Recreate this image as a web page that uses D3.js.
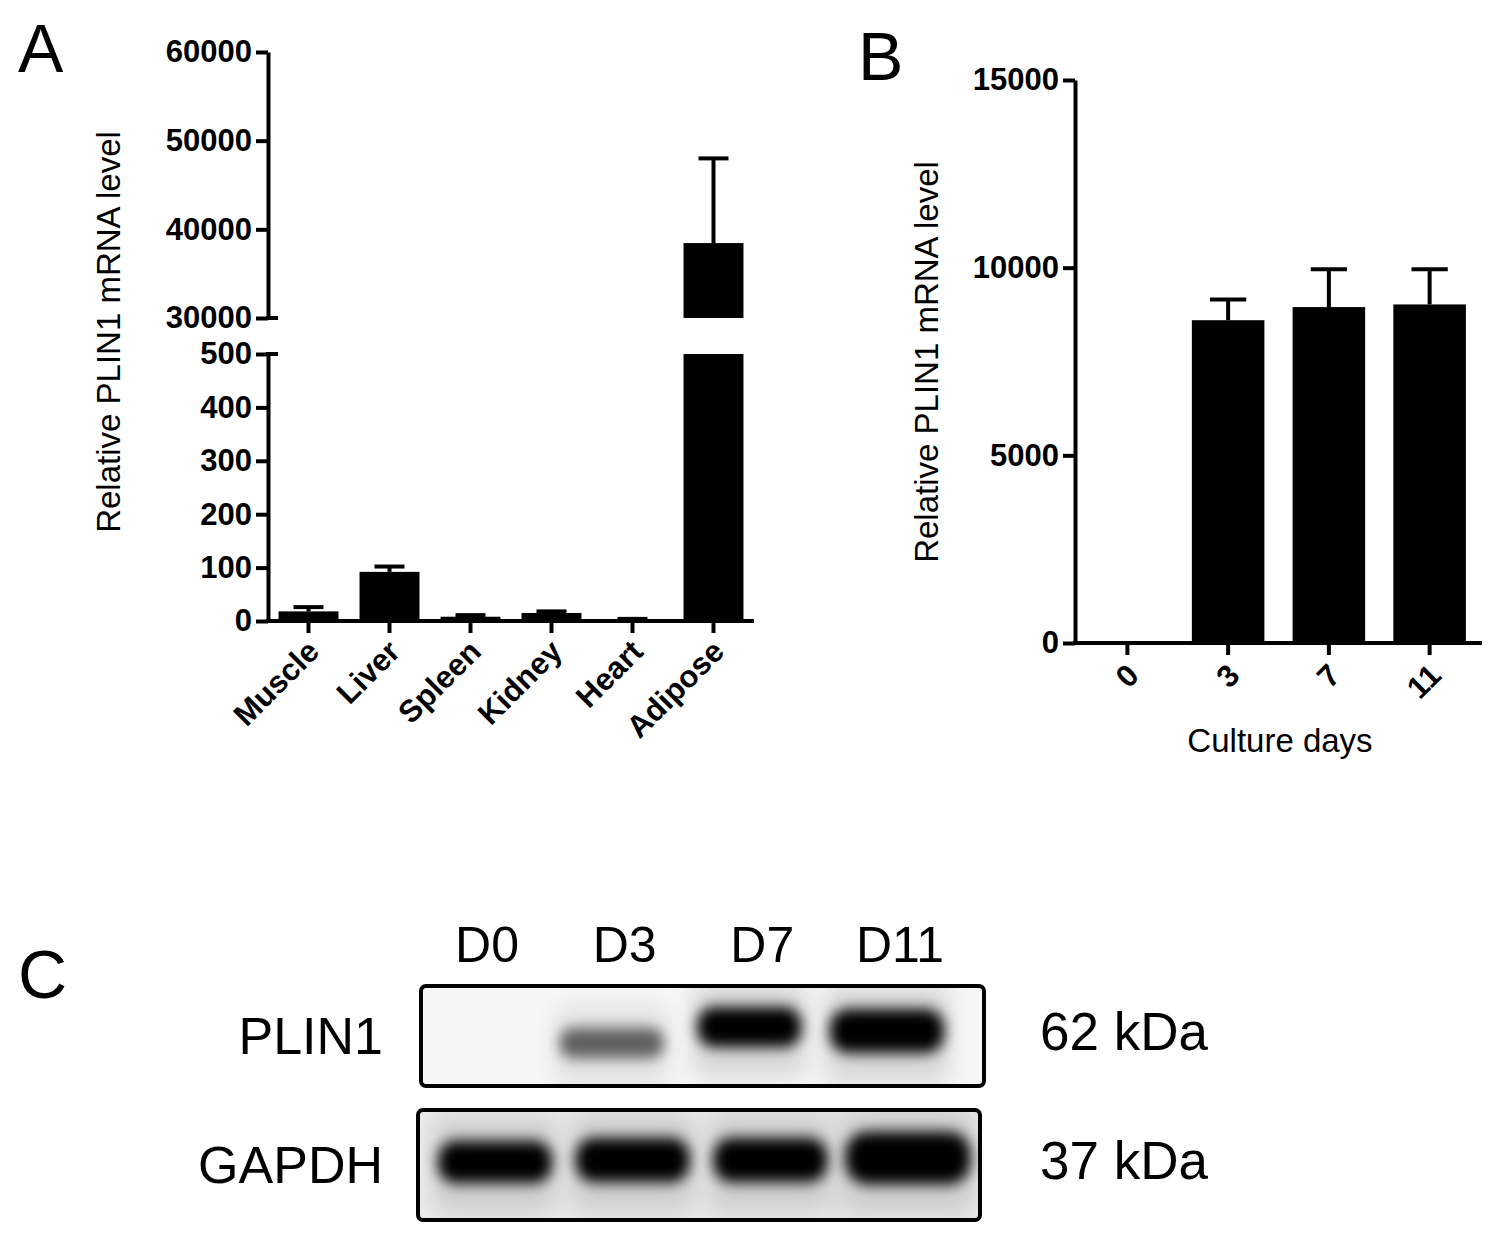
<!DOCTYPE html>
<html><head><meta charset="utf-8">
<script src="https://cdn.jsdelivr.net/npm/d3@7"></script>
<style>
body{margin:0;background:#fff;}
svg{display:block;font-family:"Liberation Sans",Arial,sans-serif;}
</style></head>
<body>
<svg id="fig" width="1500" height="1242"></svg>
<script>
// ---------- DATA ----------
const tissues = ["Muscle","Liver","Spleen","Kidney","Heart","Adipose"];
const tissueMean = [18, 92, 8, 15, 3, 38450];
const tissueErr  = [26, 102, 11, 18, 4, 48000];
const lowTicks  = [0,100,200,300,400,500];
const highTicks = [30000,40000,50000,60000];

const days = ["0","3","7","11"];
const dayMean = [0, 8600, 8950, 9020];
const dayErr  = [0, 9150, 9960, 9960];
const dayTicks = [0,5000,10000,15000];

const lanes = ["D0","D3","D7","D11"];
const plin1Intensity = [0, 0.6, 1, 1];
const plin1Thickness = [0, 0.75, 1, 1.1];
const gapdhIntensity = [1, 1, 1, 1];
const gapdhThickness = [1, 1.05, 1.05, 1.25];
const blotRows = ["PLIN1","GAPDH"];
const blotKDa = ["62 kDa","37 kDa"];

// ---------- SETUP ----------
const svg = d3.select("#fig");
svg.append("rect").attr("width",1500).attr("height",1242).attr("fill","#fff");
const AX = 4; // axis stroke
const tickFont = "bold 31px 'Liberation Sans', Arial, sans-serif";

function styleAxis(g){
  g.selectAll("path.domain").attr("stroke","#000").attr("stroke-width",AX);
  g.selectAll(".tick line").attr("stroke","#000").attr("stroke-width",AX);
  g.selectAll(".tick text").attr("fill","#000").style("font",tickFont);
}

// ---------- PANEL A ----------
const A = svg.append("g");
A.append("text").attr("x",18).attr("y",72).attr("font-size",68).text("A");

const xA = d3.scaleBand().domain(tissues).range([268,754]).paddingInner(0.26).paddingOuter(0.13);
const yLow = d3.scaleLinear().domain([0,500]).range([621,354]);
const yHigh = d3.scaleLinear().domain([30000,60000]).range([318,52]);

const gyl = A.append("g").attr("transform","translate(268,0)")
  .call(d3.axisLeft(yLow).tickValues(lowTicks).tickSize(12).tickPadding(4).tickSizeOuter(0));
styleAxis(gyl);
const gyh = A.append("g").attr("transform","translate(268,0)")
  .call(d3.axisLeft(yHigh).tickValues(highTicks).tickSize(12).tickPadding(4).tickSizeOuter(0).tickFormat(d3.format("d")));
styleAxis(gyh);
A.append("line").attr("x1",266).attr("x2",278).attr("y1",yHigh(30000)).attr("y2",yHigh(30000)).attr("stroke","#000").attr("stroke-width",AX);
A.append("line").attr("x1",266).attr("x2",278).attr("y1",yLow(500)).attr("y2",yLow(500)).attr("stroke","#000").attr("stroke-width",AX);

const dA = tissues.map((t,i)=>({t,m:tissueMean[i],e:tissueErr[i]}));
const bw = xA.bandwidth();
A.selectAll("rect.low").data(dA).join("rect")
  .attr("x",d=>xA(d.t)).attr("width",bw)
  .attr("y",d=>yLow(Math.min(d.m,500))).attr("height",d=>yLow(0)-yLow(Math.min(d.m,500)))
  .attr("fill","#000");
A.selectAll("rect.high").data(dA.filter(d=>d.m>30000)).join("rect")
  .attr("x",d=>xA(d.t)).attr("width",bw)
  .attr("y",d=>yHigh(d.m)).attr("height",d=>yHigh(30000)-yHigh(d.m))
  .attr("fill","#000");
dA.forEach(d=>{
  const cx = xA(d.t)+bw/2;
  const ys = d.m>30000 ? yHigh : yLow;
  A.append("line").attr("x1",cx).attr("x2",cx).attr("y1",ys(d.m)).attr("y2",ys(d.e)).attr("stroke","#000").attr("stroke-width",AX);
  A.append("line").attr("x1",cx-bw/4).attr("x2",cx+bw/4).attr("y1",ys(d.e)).attr("y2",ys(d.e)).attr("stroke","#000").attr("stroke-width",AX);
});
const gxa = A.append("g").attr("transform","translate(0,621)")
  .call(d3.axisBottom(xA).tickSize(12).tickSizeOuter(0).tickPadding(6));
styleAxis(gxa);
gxa.select("path.domain").attr("d","M266,0H754");
gxa.selectAll(".tick text").attr("text-anchor","end").attr("dy","0.35em")
  .attr("transform","translate(-8,12) rotate(-45)");

A.append("text").attr("transform","translate(120,332) rotate(-90)")
  .attr("text-anchor","middle").attr("font-size",33).text("Relative PLIN1 mRNA level");

// ---------- PANEL B ----------
const B = svg.append("g");
B.append("text").attr("x",858).attr("y",80).attr("font-size",68).text("B");
const xB = d3.scaleBand().domain(days).range([1077,1480]).paddingInner(0.28).paddingOuter(0.14);
const yB = d3.scaleLinear().domain([0,15000]).range([643,80]);
const gyb = B.append("g").attr("transform","translate(1075,0)")
  .call(d3.axisLeft(yB).tickValues(dayTicks).tickSize(12).tickPadding(4).tickSizeOuter(0).tickFormat(d3.format("d")));
styleAxis(gyb);
const dB = days.map((t,i)=>({t,m:dayMean[i],e:dayErr[i]}));
const bwB = xB.bandwidth();
B.selectAll("rect.bar").data(dB).join("rect")
  .attr("x",d=>xB(d.t)).attr("width",bwB)
  .attr("y",d=>yB(d.m)).attr("height",d=>yB(0)-yB(d.m)).attr("fill","#000");
dB.filter(d=>d.e>d.m).forEach(d=>{
  const cx = xB(d.t)+bwB/2;
  B.append("line").attr("x1",cx).attr("x2",cx).attr("y1",yB(d.m)).attr("y2",yB(d.e)).attr("stroke","#000").attr("stroke-width",AX);
  B.append("line").attr("x1",cx-bwB/4).attr("x2",cx+bwB/4).attr("y1",yB(d.e)).attr("y2",yB(d.e)).attr("stroke","#000").attr("stroke-width",AX);
});
const gxb = B.append("g").attr("transform","translate(0,643)")
  .call(d3.axisBottom(xB).tickSize(12).tickSizeOuter(0).tickPadding(6));
styleAxis(gxb);
gxb.select("path.domain").attr("d","M1073,0H1482");
gxb.selectAll(".tick text").attr("text-anchor","end").attr("dy","0.35em")
  .attr("transform","translate(-7,14) rotate(-45)");
B.append("text").attr("x",1280).attr("y",752).attr("text-anchor","middle").attr("font-size",33).text("Culture days");
B.append("text").attr("transform","translate(938,362) rotate(-90)")
  .attr("text-anchor","middle").attr("font-size",33).text("Relative PLIN1 mRNA level");

// ---------- PANEL C ----------
const C = svg.append("g");
C.append("text").attr("x",18).attr("y",998).attr("font-size",68).text("C");
const defs = svg.append("defs");
defs.append("filter").attr("id","blur").attr("x","-30%").attr("y","-80%").attr("width","160%").attr("height","260%")
  .append("feGaussianBlur").attr("stdDeviation",7);
defs.append("filter").attr("id","blur2").attr("x","-30%").attr("y","-100%").attr("width","160%").attr("height","300%")
  .append("feGaussianBlur").attr("stdDeviation",12);

const xL = d3.scalePoint().domain(lanes).range([487,900]);
C.selectAll("text.lane").data(lanes).join("text")
  .attr("x",d=>xL(d)).attr("y",962).attr("text-anchor","middle").attr("font-size",50).text(d=>d);

const boxes = [{x:421,y:986,w:563,h:100},{x:418,y:1110,w:562,h:110}];
const rowsInt = [plin1Intensity, gapdhIntensity];
const rowsTh = [plin1Thickness, gapdhThickness];
const laneShift = [-13, 8];
const bandBaseH = [40, 42];
const bandCY = [[1043,1043,1027,1031],[1162,1160,1160,1158]];
defs.selectAll("clipPath").data(boxes).join("clipPath").attr("id",(d,i)=>"clip"+i)
  .append("rect").attr("x",d=>d.x).attr("y",d=>d.y).attr("width",d=>d.w).attr("height",d=>d.h).attr("rx",5);

boxes.forEach((b,r)=>{
  const g = C.append("g").attr("clip-path",`url(#clip${r})`);
  g.append("rect").attr("x",b.x).attr("y",b.y).attr("width",b.w).attr("height",b.h)
    .attr("fill", r===0 ? "#f7f7f7" : "#ececec");
  lanes.forEach((l,i)=>{
    const inten = rowsInt[r][i];
    if(inten<=0) return;
    const cx = xL(l) + laneShift[r];
    const w = (r===0 ? 104 : 114) * (i===3?1.1:1);
    const h = bandBaseH[r]*rowsTh[r][i];
    const cy = bandCY[r][i];
    g.append("rect").attr("x",cx-w/2-4).attr("y",cy-h/2-24).attr("width",w+8).attr("height",h+54)
      .attr("fill","#000").attr("opacity",0.13*inten).attr("filter","url(#blur2)");
    g.append("rect").attr("x",cx-w/2).attr("y",cy-h/2).attr("width",w).attr("height",h).attr("rx",h/2.4)
      .attr("fill", d3.interpolateRgb("#ffffff","#000000")(Math.min(1,inten*1.05)))
      .attr("filter","url(#blur)");
  });
  C.append("rect").attr("x",b.x).attr("y",b.y).attr("width",b.w).attr("height",b.h).attr("rx",5)
    .attr("fill","none").attr("stroke","#000").attr("stroke-width",4);
  C.append("text").attr("x",383).attr("y",b.y+b.h/2+18).attr("text-anchor","end").attr("font-size",52).text(blotRows[r]);
  C.append("text").attr("x",1040).attr("y",b.y+b.h/2+14).attr("font-size",53).text(blotKDa[r]);
});
</script>
</body></html>
